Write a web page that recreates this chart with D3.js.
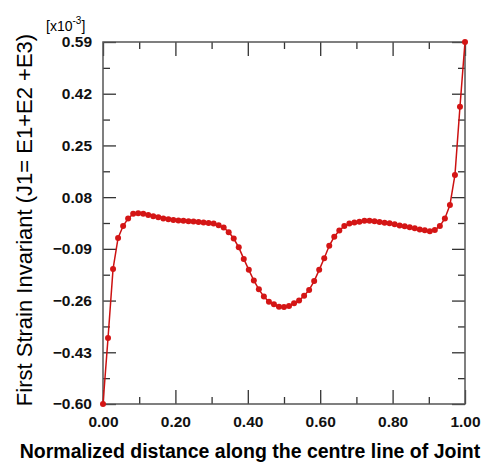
<!DOCTYPE html>
<html lang="en">
<head>
    <meta charset="UTF-8">
    <title>First Strain Invariant</title>
    <script src="https://d3js.org/d3.v7.min.js"></script>
    <style>
        body { margin: 0; background: #fff; }
        text { font-family: "Liberation Sans", Arial, sans-serif; }
        .tick text { font-size: 15.5px; font-weight: bold; fill: #111; }
        .tick line { stroke: #333; stroke-width: 1.3; }
    </style>
</head>
<body>
    <svg id="chart"></svg>
    <script>
        // strain values (x10^-3) sampled along the centre line, 73 points from 0 to 1
        var distance = d3.range(73).map(i => i / 72);
        var strain = [
            -0.600, -0.383, -0.156, -0.054, -0.015, 0.010, 0.025, 0.027, 0.025, 0.021,
             0.017,  0.014,  0.010,  0.007,  0.005, 0.003, 0.002, 0.001, 0.000, -0.002,
            -0.003, -0.005, -0.007, -0.012, -0.020, -0.035, -0.056, -0.085, -0.123, -0.159,
            -0.194, -0.223, -0.247, -0.264, -0.272, -0.280, -0.281, -0.278, -0.269, -0.260,
            -0.244, -0.225, -0.196, -0.159, -0.121, -0.080, -0.050, -0.030, -0.015, -0.007,
            -0.003, -0.001,  0.002,  0.002,  0.001, -0.002, -0.004, -0.006, -0.009, -0.013,
            -0.016, -0.019, -0.022, -0.026, -0.029, -0.032, -0.028, -0.015,  0.010,  0.054,
             0.153,  0.377,  0.590
        ];
        var xTicks = [0, 0.2, 0.4, 0.6, 0.8, 1.0];
        var xMinor = [0.1, 0.3, 0.5, 0.7, 0.9];
        var yTicks = [-0.60, -0.43, -0.26, -0.09, 0.08, 0.25, 0.42, 0.59];
        var yMinor = [-0.515, -0.345, -0.175, -0.005, 0.165, 0.335, 0.505];

        var data = distance.map((d, i) => ({ x: d, y: strain[i] }));

        var margin = { top: 42, right: 32, bottom: 61, left: 103 },
            width = 497 - margin.left - margin.right,
            height = 465 - margin.top - margin.bottom;

        var svgRoot = d3.select("#chart")
            .attr("width", 497)
            .attr("height", 465);
        var svg = svgRoot.append("g")
            .attr("transform", "translate(" + margin.left + "," + margin.top + ")");

        var x = d3.scaleLinear().domain([0, 1]).range([0, width]);
        var y = d3.scaleLinear().domain([-0.60, 0.59]).range([height, 0]);

        // major + minor ticks, pointing inward on all four sides
        function ticks(axis, vals, size, fmt) {
            return axis.tickValues(vals).tickSize(-size).tickFormat(fmt);
        }
        var noLabel = () => "";

        svg.append("g").attr("transform", "translate(0," + height + ")")
            .call(ticks(d3.axisBottom(x), xTicks, 14, d3.format(".2f")).tickPadding(12));
        svg.append("g").attr("transform", "translate(0," + height + ")")
            .call(ticks(d3.axisBottom(x), xMinor, 7, noLabel));
        svg.append("g").call(ticks(d3.axisTop(x), xTicks, 14, noLabel));
        svg.append("g").call(ticks(d3.axisTop(x), xMinor, 7, noLabel));

        svg.append("g")
            .call(ticks(d3.axisLeft(y), yTicks, 13, d3.format(".2f")).tickPadding(11));
        svg.append("g").call(ticks(d3.axisLeft(y), yMinor, 7, noLabel));
        svg.append("g").attr("transform", "translate(" + width + ",0)")
            .call(ticks(d3.axisRight(y), yTicks, 13, noLabel));
        svg.append("g").attr("transform", "translate(" + width + ",0)")
            .call(ticks(d3.axisRight(y), yMinor, 7, noLabel));

        svg.selectAll(".domain").remove();

        // frame
        svg.append("rect")
            .attr("width", width).attr("height", height)
            .attr("fill", "none").attr("stroke", "#555").attr("stroke-width", 1.5);

        // curve and markers
        var line = d3.line().x(d => x(d.x)).y(d => y(d.y));
        svg.append("path").datum(data)
            .attr("d", line)
            .attr("fill", "none")
            .attr("stroke", "#cc1111")
            .attr("stroke-width", 1.5);

        svg.selectAll(".dot").data(data)
            .enter().append("circle")
            .attr("class", "dot")
            .attr("cx", d => x(d.x))
            .attr("cy", d => y(d.y))
            .attr("r", 3)
            .attr("fill", "#d41515");

        // axis titles
        svgRoot.append("text")
            .attr("transform", "translate(32,220) rotate(-90)")
            .attr("text-anchor", "middle")
            .style("font-size", "22px")
            .text("First Strain Invariant (J1= E1+E2 +E3)");

        svgRoot.append("text")
            .attr("x", 250).attr("y", 458)
            .attr("text-anchor", "middle")
            .style("font-size", "19.5px").style("font-weight", "bold")
            .text("Normalized distance along the centre line of Joint");

        var mult = svgRoot.append("text")
            .attr("x", 46).attr("y", 31)
            .style("font-size", "14px");
        mult.append("tspan").text("[x10");
        mult.append("tspan").attr("dy", -7).style("font-size", "10px").text("-3");
        mult.append("tspan").attr("dy", 7).text("]");
    </script>
</body>
</html>
